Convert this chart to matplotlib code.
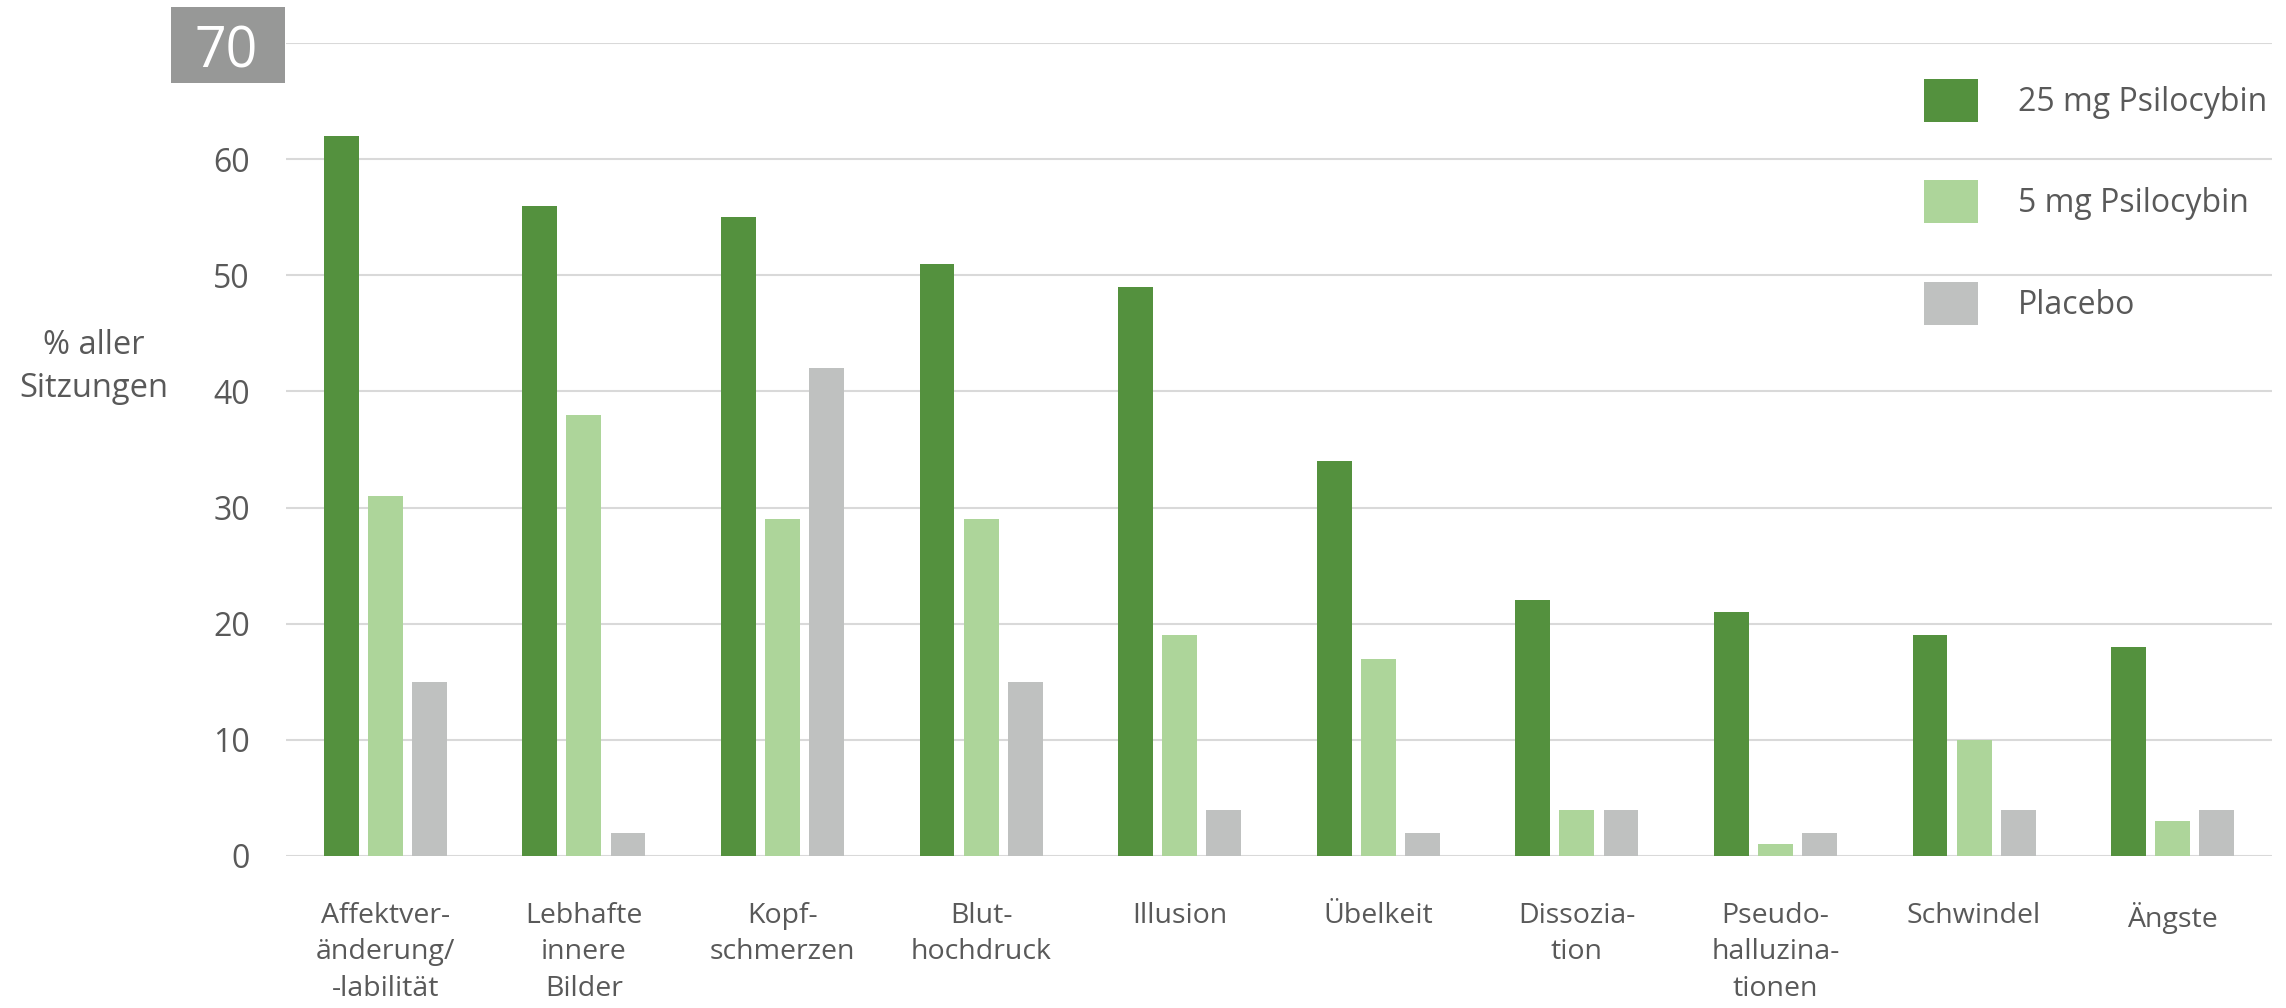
import matplotlib.pyplot as plt
import numpy as np
from matplotlib.patches import Rectangle
from matplotlib.transforms import ScaledTranslation

# data
categories = ['Affektver-\nänderung/\n-labilität', 'Lebhafte\ninnere\nBilder', 'Kopf-\nschmerzen',
              'Blut-\nhochdruck', 'Illusion', 'Übelkeit', 'Dissozia-\ntion',
              'Pseudo-\nhalluzina-\ntionen', 'Schwindel', 'Ängste']
psilo25 = [62, 56, 55, 51, 49, 34, 22, 21, 19, 18]
psilo5 = [31, 38, 29, 29, 19, 17, 4, 1, 10, 3]
placebo = [15, 2, 42, 15, 4, 2, 4, 2, 4, 4]
series_names = ['25 mg Psilocybin', '5 mg Psilocybin', 'Placebo']
yticks = [0, 10, 20, 30, 40, 50, 60, 70]

colors = ['#54913E', '#ADD59A', '#BFC1C0']
text_col = '#595959'

plt.rcParams['font.family'] = ['Open Sans', 'DejaVu Sans']

fig = plt.figure(figsize=(22.86, 10.08), dpi=100)
ax = fig.add_axes([286 / 2286, 1 - 856 / 1008, (2272 - 286) / 2286, (856 - 43) / 1008])

x = np.arange(len(categories))
step = 0.222
width = 0.176
for k, vals in enumerate([psilo25, psilo5, placebo]):
    ax.bar(x + (k - 1) * step, vals, width, color=colors[k], label=series_names[k], zorder=3)

ax.set_xlim(-0.5, len(categories) - 0.5)
ax.set_ylim(0, 70)
ax.set_yticks(yticks)
ax.set_yticklabels([str(t) for t in yticks])
ax.set_xticks(x)
ax.set_xticklabels(categories, fontsize=20.5, color=text_col, linespacing=1.4, va='top')
ax.tick_params(axis='x', length=0, pad=33)
ax.tick_params(axis='y', length=0, pad=26, labelsize=23, labelcolor=text_col)

ax.grid(axis='y', color='#d9d9d9', linewidth=1.5, zorder=0)
for s in ax.spines.values():
    s.set_visible(False)

# highlighted top tick in a grey box
top = ax.get_yticklabels()[-1]
top.set_color('white')
top.set_fontsize(40)
top.set_transform(top.get_transform() + ScaledTranslation(0.08, -0.03, fig.dpi_scale_trans))
fig.patches.append(Rectangle((171 / 2286, 1 - 83 / 1008), 114 / 2286, 76 / 1008,
                             transform=fig.transFigure, facecolor='#979897', edgecolor='none', zorder=-1))

fig.text(94 / 2286, 1 - 367 / 1008, '% aller\nSitzungen', ha='center', va='center',
         multialignment='center', fontsize=23.5, color=text_col, linespacing=1.4)

ax.legend(loc='upper left', bbox_to_anchor=(1924 / 2286, 1 - 79 / 1008), bbox_transform=fig.transFigure,
          frameon=False, borderpad=0, borderaxespad=0, fontsize=23, handlelength=1.69, handleheight=1.69,
          labelspacing=1.83, handletextpad=1.25, labelcolor=text_col)

fig.savefig('out.png', dpi=100)
